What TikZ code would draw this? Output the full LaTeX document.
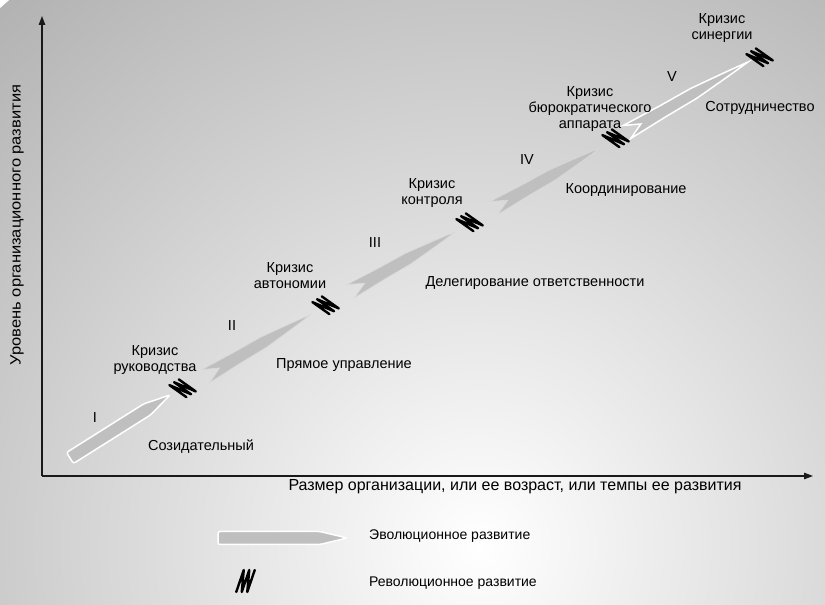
\documentclass[tikz,border=0pt]{standalone}
\usepackage{fontspec}
\setmainfont{Liberation Sans}
\usetikzlibrary{calc,arrows.meta}

% evolutionary stage with a forked tail: #1 tail, #2 tip, #3 style
\newcommand\spear[3]{%
  \filldraw[#3]
    ($(#1)!7.5pt!90:(#2)$)
    -- ($(#1)!0.3!(#2)!6.2pt!90:(#2)$)
    -- ($(#1)!0.55!(#2)!5.8pt!90:(#2)$)
    .. controls ($(#1)!0.85!(#2)!2.2pt!90:(#2)$) .. (#2)
    .. controls ($(#1)!0.85!(#2)!2.2pt!-90:(#2)$) .. ($(#1)!0.55!(#2)!5.8pt!-90:(#2)$)
    -- ($(#1)!0.3!(#2)!6.2pt!-90:(#2)$)
    -- ($(#1)!7.5pt!-90:(#2)$)
    -- ($(#1)!16pt!(#2)$) -- cycle;}

% evolutionary stage with a flat tail and pencil point: #2 tail, #3 tip
\newcommand\pencil[3][]{%
  \filldraw[evoframe,rounded corners=2pt,#1]
    ($(#2)!6.5pt!90:(#3)$)
    -- ($(#3)!27pt!(#2)!6.5pt!-90:(#2)$)
    -- (#3)
    -- ($(#3)!27pt!(#2)!6.5pt!90:(#2)$)
    -- ($(#2)!6.5pt!-90:(#3)$) -- cycle;}

% revolutionary break: #1 centre, #2 first four entries of the cm matrix
\newcommand\revmark[2]{%
  \draw[revmk,cm={#2,(#1)}]
    (-7,-11) -- (-5,11) -- (-1.5,-11) -- (0.5,11) -- (4,-11) -- (6,11);}

\begin{document}
\begin{tikzpicture}[x=1pt,y=1pt,
  lbl/.style={font=\fontsize{14.5}{16}\selectfont, align=center, inner sep=0pt},
  leglbl/.style={font=\fontsize{14}{16}\selectfont, inner sep=0pt, anchor=west},
  axislbl/.style={font=\fontsize{16}{18}\selectfont, inner sep=0pt},
  axis/.style={line width=1.2pt, draw=black!90, -{Triangle[length=9pt,width=6.5pt]}},
  evo/.style={fill=black!25, draw=white!85!black, line width=0.6pt},
  evoframe/.style={fill=black!25, draw=white, line width=1.5pt},
  revmk/.style={line width=2.4pt, line join=round, line cap=round, draw=black}]

\useasboundingbox (0,0) rectangle (825,605);
\begin{scope}
  \clip (0,0) rectangle (825,605);
  \fill[white] (0,0) rectangle (825,605);
  \shade[inner color=white, outer color=black!30] (480,60) circle (720);
\end{scope}

% axes
\coordinate (o) at (42,129);
\coordinate (xe) at (813,129);
\coordinate (ye) at (42,589);
\draw[axis] (o) -- (xe);
\draw[axis] (o) -- (ye);

% stages
\coordinate (a1) at (70,147);  \coordinate (b1) at (170,210);
\coordinate (a2) at (206,229); \coordinate (b2) at (310,290);
\coordinate (a3) at (351,314); \coordinate (b3) at (455,373);
\coordinate (a4) at (494,397); \coordinate (b4) at (600,457);
\coordinate (a5) at (627,473); \coordinate (b5) at (748,543);

\pencil{a1}{b1}
\spear{a2}{b2}{evo}
\spear{a3}{b3}{evo}
\spear{a4}{b4}{evo}
\spear{a5}{b5}{evoframe}

% crises
\coordinate (m1) at (183,217);
\coordinate (m2) at (326,300);
\coordinate (m3) at (470,383);
\coordinate (m4) at (616,467);
\coordinate (m5) at (760,548);
\foreach \m in {m1,m2,m3,m4,m5}{%
  \revmark{\m}{0.85,0.52,-0.85,0.5}}

% labels
\node[lbl] (crisis1) at (155,245) {Кризис\\руководства};
\node[lbl] (st1) at (95,187) {I};
\node[lbl] (name1) at (201,158) {Созидательный};
\node[lbl] (st2) at (232,279) {II};
\node[lbl] (name2) at (344,240) {Прямое управление};
\node[lbl] (crisis2) at (290,329) {Кризис\\автономии};
\node[lbl] (st3) at (375,362) {III};
\node[lbl] (name3) at (535,322) {Делегирование ответственности};
\node[lbl] (crisis3) at (432,412) {Кризис\\контроля};
\node[lbl] (st4) at (527,445) {IV};
\node[lbl] (name4) at (626,415) {Координирование};
\node[lbl] (crisis4) at (590,496) {Кризис\\бюрократического\\аппарата};
\node[lbl] (st5) at (672,528) {V};
\node[lbl] (name5) at (760,497) {Сотрудничество};
\node[lbl] (crisis5) at (722,577) {Кризис\\синергии};

\node[axislbl] (xlab) at (515,118) {Размер организации, или ее возраст, или темпы ее развития};
\node[font=\fontsize{15}{17}\selectfont, inner sep=0pt, rotate=90, xscale=1.1] (ylab) at (17,380) {Уровень организационного развития};

% legend
\coordinate (la) at (218,67);
\coordinate (lb) at (347,67);
\pencil{la}{lb}
\node[leglbl] (leg1) at (369,69) {Эволюционное развитие};
\coordinate (lm) at (246,24);
\revmark{lm}{1,0,0.25,1}
\node[leglbl] (leg2) at (369,22) {Революционное развитие};
\end{tikzpicture}
\end{document}
